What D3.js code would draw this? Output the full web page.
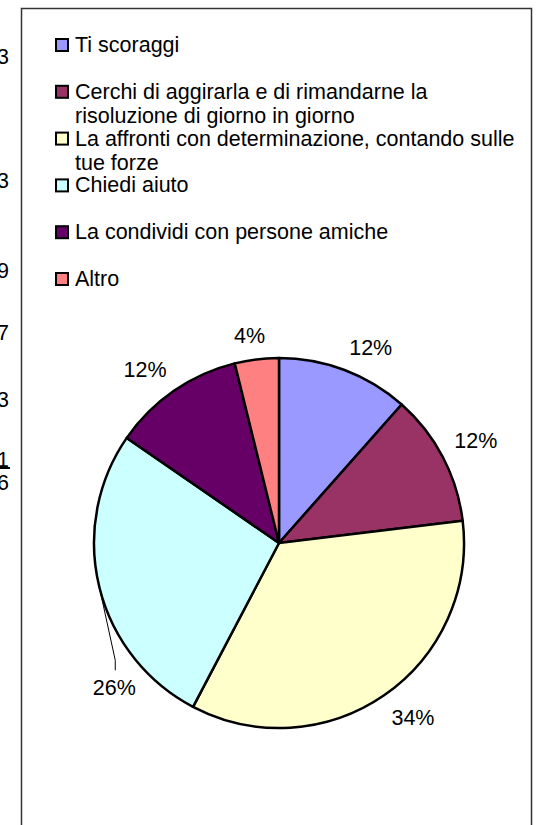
<!DOCTYPE html>
<html>
<head>
<meta charset="utf-8">
<script src="https://cdn.jsdelivr.net/npm/d3@7"></script>
<style>
    body { margin: 0; background: #fff; }
    text { font-family: "Liberation Sans", Arial, sans-serif; fill: #000; }
</style>
</head>
<body>
<div id="chart"></div>
<script>
// Answers (legend text, already broken into lines as in the original)
var categories = [
    ["Ti scoraggi"],
    ["Cerchi di aggirarla e di rimandarne la", "risoluzione di giorno in giorno"],
    ["La affronti con determinazione, contando sulle", "tue forze"],
    ["Chiedi aiuto"],
    ["La condividi con persone amiche"],
    ["Altro"]
];
// Number of answers for each option (also visible, cut off, in the table on the left)
var counts = [3, 3, 9, 7, 3, 1];
var total = 26;
var pctLabels = ["12%", "12%", "34%", "26%", "12%", "4%"];
var colors = ["#9999FF", "#993366", "#FFFFCC", "#CCFFFF", "#660066", "#FF8080"];

var width = 544, height = 825;
var fontSize = "21.5px";

var svg = d3.select("#chart").append("svg")
    .attr("width", width)
    .attr("height", height);

// Cut-off column of the neighbouring table
var tableRowsY = [64, 188, 278, 340, 407, 467];
svg.selectAll(".cell")
    .data(counts)
    .enter().append("text")
    .attr("class", "cell")
    .attr("x", 9)
    .attr("y", function(d, i) { return tableRowsY[i]; })
    .attr("text-anchor", "end")
    .style("font-size", fontSize)
    .text(function(d) { return d; });

svg.append("line")
    .attr("x1", 0).attr("x2", 10)
    .attr("y1", 468).attr("y2", 468)
    .attr("stroke", "#000")
    .attr("stroke-width", 2);

svg.append("text")
    .attr("x", 9)
    .attr("y", 490)
    .attr("text-anchor", "end")
    .style("font-size", fontSize)
    .text(total);

// Chart frame
svg.append("rect")
    .attr("x", 21.5).attr("y", 8.5)
    .attr("width", 510).attr("height", 840)
    .attr("fill", "#fff")
    .attr("stroke", "#333")
    .attr("stroke-width", 1.5);

// Legend
var legendTop = 52, itemGap = 46.8, lineGap = 24;
var legend = svg.selectAll(".legend")
    .data(categories)
    .enter().append("g")
    .attr("class", "legend")
    .attr("transform", function(d, i) { return "translate(0," + (legendTop + i * itemGap) + ")"; });

legend.append("rect")
    .attr("x", 56).attr("y", -13)
    .attr("width", 12).attr("height", 12)
    .attr("fill", function(d, i) { return colors[i]; })
    .attr("stroke", "#000")
    .attr("stroke-width", 2);

legend.selectAll("text")
    .data(function(d) { return d; })
    .enter().append("text")
    .attr("x", 75)
    .attr("y", function(d, j) { return j * lineGap; })
    .style("font-size", fontSize)
    .text(function(d) { return d; });

// Pie
var cx = 279, cy = 543, radius = 185;

var pie = d3.pie()
    .sort(null)
    .value(function(d) { return d; });

var arc = d3.arc()
    .innerRadius(0)
    .outerRadius(radius);

var g = svg.append("g")
    .attr("transform", "translate(" + cx + "," + cy + ")");

var arcs = pie(counts);

g.selectAll(".slice")
    .data(arcs)
    .enter().append("path")
    .attr("class", "slice")
    .attr("d", arc)
    .attr("fill", function(d, i) { return colors[i]; })
    .attr("stroke", "#000")
    .attr("stroke-width", 2.5)
    .attr("stroke-linejoin", "round");

// Data labels, outside end
var labelR = 198, halfH = 11;
var labelNudge = {3: [49, 89]};   // the 26% label was dragged down, with a leader line

function labelPos(d, i) {
    var a = (d.startAngle + d.endAngle) / 2;
    var s = Math.sin(a), c = -Math.cos(a);
    var w = pctLabels[i].length === 2 ? 31 : 43;
    var kx = Math.min(1, Math.abs(s) * 3), ky = Math.min(1, Math.abs(c) * 3);
    var x = s * labelR + (s >= 0 ? 1 : -1) * kx * w / 2;
    var y = c * labelR + (c >= 0 ? 1 : -1) * ky * halfH;
    if (labelNudge[i]) { x += labelNudge[i][0]; y += labelNudge[i][1]; }
    return [x, y];
}

arcs.forEach(function(d, i) {
    if (!labelNudge[i]) return;
    var a = (d.startAngle + d.endAngle) / 2;
    var p = labelPos(d, i);
    var pts = [
        [Math.sin(a) * radius, -Math.cos(a) * radius],
        [p[0] + 1, p[1] - 27],
        [p[0] + 1, p[1] - 17]
    ];
    g.append("path")
        .attr("d", d3.line()(pts))
        .attr("fill", "none")
        .attr("stroke", "#000")
        .attr("stroke-width", 1);
});

g.selectAll(".label")
    .data(arcs)
    .enter().append("text")
    .attr("class", "label")
    .attr("x", function(d, i) { return labelPos(d, i)[0]; })
    .attr("y", function(d, i) { return labelPos(d, i)[1]; })
    .attr("dy", "0.36em")
    .attr("text-anchor", "middle")
    .style("font-size", fontSize)
    .text(function(d, i) { return pctLabels[i]; });
</script>
</body>
</html>
